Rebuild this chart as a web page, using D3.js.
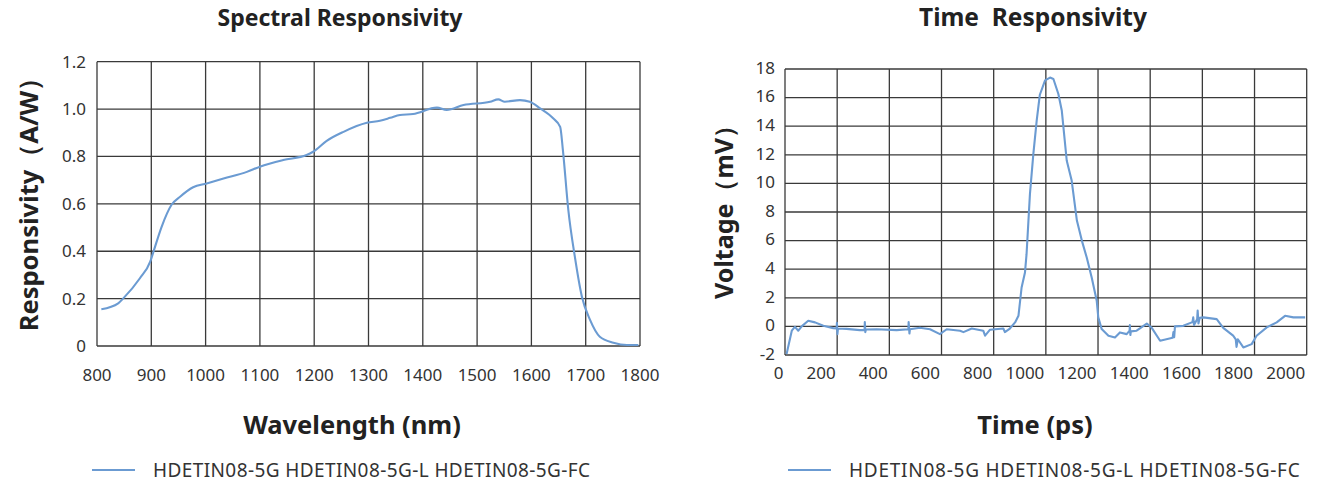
<!DOCTYPE html>
<html><head><meta charset="utf-8">
<script src="https://cdn.jsdelivr.net/npm/d3@7"></script>
<style>body{margin:0;background:#fff;} svg{display:block}</style>
</head><body><svg id="c" width="1343" height="485"></svg>
<script>
// ---------- data ----------
const specWavelength=[808,839,848,879,898,904,919,937,953,977,1002,1033,1076,1100,1143,1186,1198,1223,1254,1297,1321,1340,1358,1382,1426,1444,1475,1524,1539,1551,1579,1597,1616,1640,1653,1658,1668,1680,1693,1708,1726,1751,1776,1797];
const specResponse=[0.155,0.18,0.2,0.286,0.356,0.398,0.503,0.595,0.63,0.67,0.686,0.707,0.735,0.757,0.785,0.806,0.82,0.866,0.904,0.942,0.951,0.963,0.975,0.979,1.006,0.996,1.017,1.031,1.041,1.031,1.038,1.031,1.003,0.961,0.925,0.827,0.574,0.377,0.208,0.11,0.039,0.014,0.004,0.004];
const specXTicks=[800,900,1000,1100,1200,1300,1400,1500,1600,1700,1800];
const specYTicks=[0,0.2,0.4,0.6,0.8,1.0,1.2];

const timePs=[6,26,38,51,64,89,115,147,185,198,199,201,203,236,287,305,306,308,310,351,428,473,474,477,479,517,556,594,620,671,684,716,760,767,786,837,843,862,882,895,907,920,926,939,952,965,977,997,1016,1029,1048,1061,1080,1099,1119,1138,1157,1176,1195,1201,1214,1240,1265,1284,1310,1321,1322,1324,1326,1348,1387,1406,1438,1486,1489,1492,1495,1527,1562,1565,1568,1580,1582,1585,1590,1604,1655,1680,1718,1728,1731,1736,1757,1789,1808,1847,1885,1917,1949,1994];
const timeMv=[-1.94,-0.3,-0.03,-0.3,0,0.39,0.28,0.04,-0.12,-0.15,0.25,-0.55,-0.15,-0.17,-0.26,-0.25,0.3,-0.4,-0.22,-0.2,-0.26,-0.2,0.3,-0.5,-0.2,-0.1,-0.2,-0.54,-0.2,-0.3,-0.4,-0.15,-0.3,-0.65,-0.23,-0.15,-0.4,-0.15,0.28,0.74,2.72,3.77,5.05,9.25,12.05,14.4,16.2,17.2,17.4,17.3,16.25,15.1,11.6,10.2,7.4,6.0,4.8,3.4,1.8,0.63,-0.19,-0.65,-0.77,-0.42,-0.54,-0.3,0.1,-0.6,-0.35,-0.3,0.2,-0.1,-1.0,-0.8,-0.4,-0.75,0.0,0.04,0.3,0.63,0.1,0.5,1.1,0.2,0.6,0.63,0.51,-0.1,-0.65,-0.9,-1.43,-0.9,-1.47,-1.24,-0.65,-0.07,0.28,0.74,0.63,0.63];
const timeXTicks=[0,200,400,600,800,1000,1200,1400,1600,1800,2000];
const timeYTicks=[-2,0,2,4,6,8,10,12,14,16,18];

const legendLabel="HDETIN08-5G HDETIN08-5G-L HDETIN08-5G-FC";

// ---------- drawing ----------
const svg=d3.select("#c");
const FONT="'Noto Sans', 'Open Sans', sans-serif";
const LINE="#6b9bd2";
const GRID="#3a3a3a";

function panel(o){
  const g=svg.append("g");
  const x=d3.scaleLinear().domain(o.xDomain).range(o.xRange);
  const y=d3.scaleLinear().domain(o.yDomain).range(o.yRange);
  g.selectAll(".vg").data(o.xTicks).join("line")
    .attr("x1",d=>x(d)).attr("x2",d=>x(d))
    .attr("y1",y(o.yDomain[0])).attr("y2",y(o.yDomain[1]))
    .attr("stroke",GRID).attr("stroke-width",1.3);
  g.selectAll(".hg").data(o.yTicks).join("line")
    .attr("y1",d=>y(d)).attr("y2",d=>y(d))
    .attr("x1",x(o.xDomain[0])).attr("x2",x(o.xDomain[1]))
    .attr("stroke",GRID).attr("stroke-width",1.3);
  g.selectAll(".xl").data(o.xTicks).join("text")
    .attr("x",d=>x(d)+o.xLabelDx).attr("y",o.xLabelY)
    .attr("text-anchor",o.xAnchor).attr("font-family",FONT).attr("font-size",17).attr("fill","#333")
    .text(d=>d);
  g.selectAll(".yl").data(o.yTicks).join("text")
    .attr("x",o.yLabelX).attr("y",d=>y(d)).attr("dy",o.yDy)
    .attr("text-anchor","end").attr("font-family",FONT).attr("font-size",17).attr("fill","#333")
    .text(o.yFmt);
  const pts=o.xs.map((v,i)=>[v,o.ys[i]]);
  g.append("path").datum(pts)
    .attr("d",d3.line().x(d=>x(d[0])).y(d=>y(d[1])).curve(o.curve))
    .attr("fill","none").attr("stroke",LINE).attr("stroke-width",2.1).attr("stroke-linejoin","round");
  g.append("text").attr("x",o.titleX).attr("y",26).attr("text-anchor","middle")
    .attr("font-family",FONT).attr("font-weight","bold").attr("font-size",o.titleSize).attr("fill","#222")
    .style("white-space","pre").text(o.title);
  g.append("text").attr("x",o.xTitleX).attr("y",434).attr("text-anchor","middle")
    .attr("font-family",FONT).attr("font-weight","bold").attr("font-size",25.5).attr("fill","#222")
    .text(o.xTitle);
  g.append("text").attr("transform",`translate(${o.yTitleX},${o.yTitleY}) rotate(-90)`).attr("text-anchor","middle")
    .attr("font-family",FONT).attr("font-weight","bold").attr("font-size",o.yTitleSize).attr("fill","#222")
    .text(o.yTitle);
  g.append("line").attr("x1",o.legX).attr("x2",o.legX+43).attr("y1",470).attr("y2",470)
    .attr("stroke",LINE).attr("stroke-width",2);
  g.append("text").attr("x",o.legX+61).attr("y",477)
    .attr("font-family",FONT).attr("font-size",19).attr("letter-spacing",o.legSpacing).attr("fill","#333").text(legendLabel);
}

panel({xDomain:[800,1800],xRange:[97,640],yDomain:[0,1.2],yRange:[346,61.7],
  xTicks:specXTicks,yTicks:specYTicks,xLabelY:381,xLabelDx:0,xAnchor:"middle",yLabelX:86,yDy:"0.35em",
  yFmt:d=>d===0?"0":d.toFixed(1),xs:specWavelength,ys:specResponse,curve:d3.curveMonotoneX,
  title:"Spectral Responsivity",titleSize:23,titleX:340,xTitle:"Wavelength (nm)",xTitleX:352,
  yTitle:"Responsivity（A/W）",yTitleSize:25.5,yTitleX:38,yTitleY:198,legX:92,legSpacing:0.4});

panel({xDomain:[0,2000],xRange:[785,1306.7],yDomain:[-2,18],yRange:[355,69],
  xTicks:timeXTicks,yTicks:timeYTicks,xLabelY:379,xLabelDx:-1.5,xAnchor:"end",yLabelX:775,yDy:"0.28em",
  yFmt:d=>d,xs:timePs,ys:timeMv,curve:d3.curveLinear,
  title:"Time  Responsivity",titleSize:24.5,titleX:1033,xTitle:"Time (ps)",xTitleX:1035,
  yTitle:"Voltage（mV）",yTitleSize:25,yTitleX:733,yTitleY:206,legX:788,legSpacing:0.75});
</script></body></html>
